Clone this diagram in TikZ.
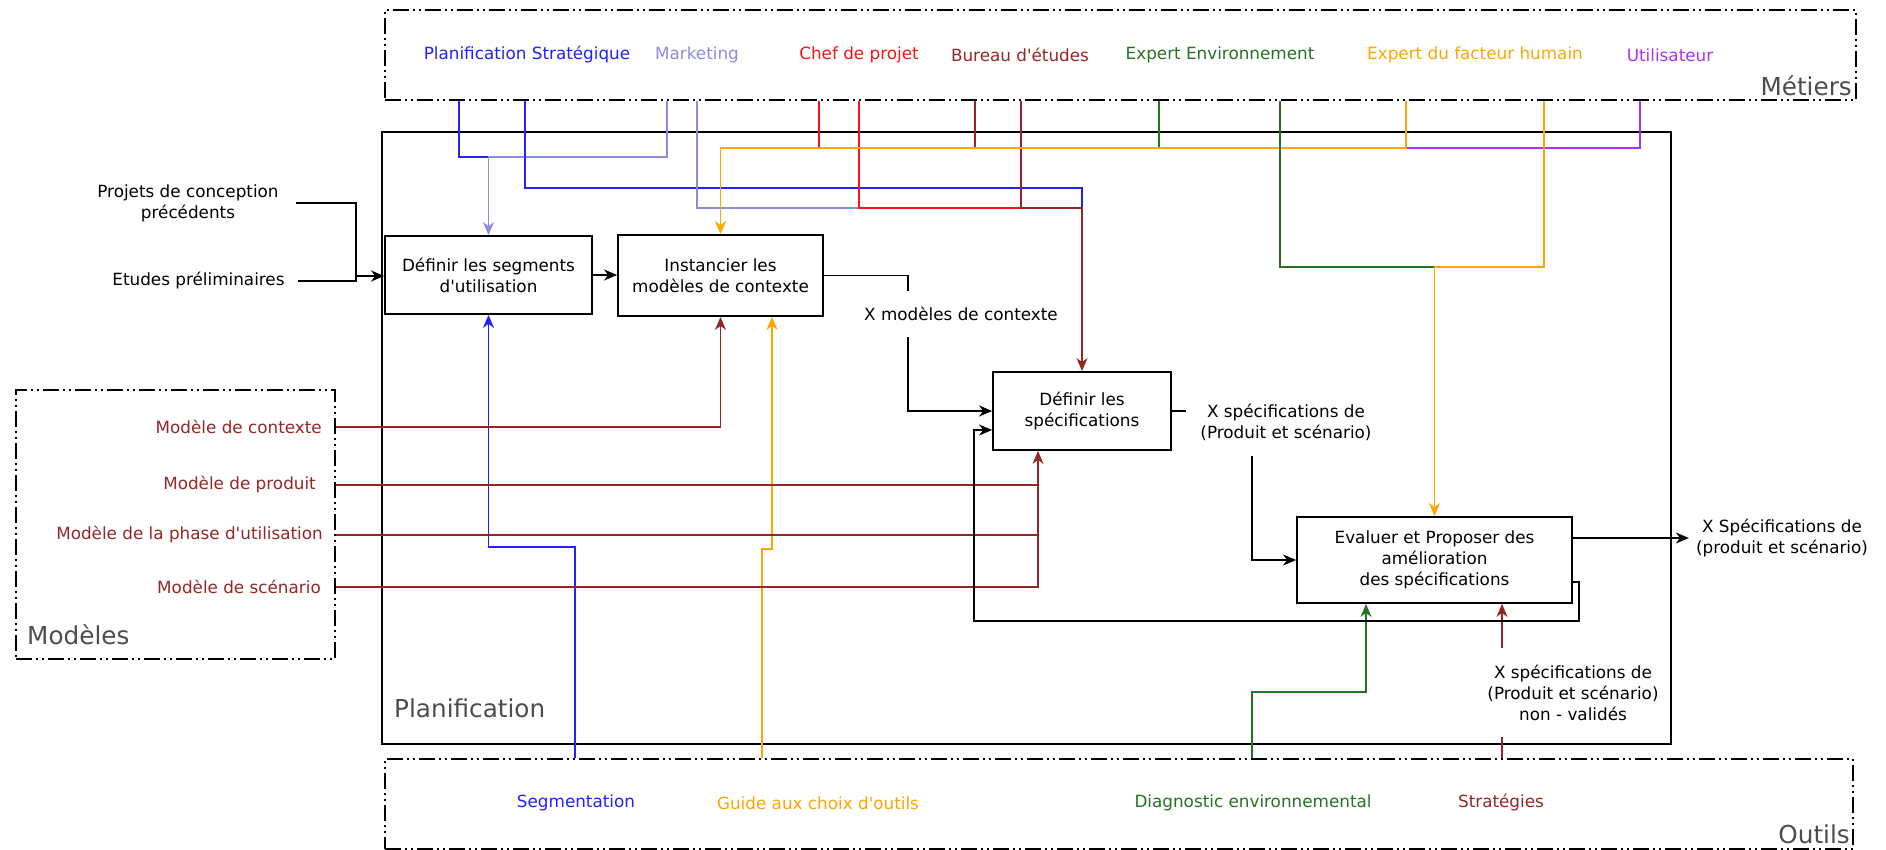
\documentclass[tikz,border=0pt]{standalone}
\usepackage{fontspec}
\setmainfont{DejaVu Sans}[Ligatures=TeXOff]
\usetikzlibrary{arrows.meta}

\definecolor{cPS}{RGB}{34,34,255}
\definecolor{cMkt}{RGB}{140,140,220}
\definecolor{cCdp}{RGB}{250,20,20}
\definecolor{cBE}{RGB}{150,38,38}
\definecolor{cEnv}{RGB}{35,115,35}
\definecolor{cEFH}{RGB}{255,165,0}
\definecolor{cUsr}{RGB}{170,50,240}
\definecolor{cTitle}{RGB}{77,77,77}

\tikzset{
  grp/.style={draw, line width=1.6pt, dash pattern=on 16pt off 4pt on 2pt off 4pt on 2pt off 4pt, inner sep=0pt},
  proc/.style={draw, line width=1.8pt, fill=white, align=center, inner sep=0pt},
  lbl/.style={align=center, inner sep=0pt},
  grptitle/.style={text=cTitle, font=\fontsize{24.7}{30}\selectfont, inner sep=0pt},
  flow/.style={line width=1.6pt},
  lnk/.style={line width=1.4pt},
}

\begin{document}
\begin{tikzpicture}[x=1pt, y=-1pt, font=\fontsize{16.8}{21}\selectfont,
  >={Stealth[length=13pt,width=11pt,inset=4pt]}]
  \useasboundingbox (0,0) rectangle (1886,850);

  % Groups
  \node[grp, minimum width=1471pt, minimum height=90pt] (metiers) at (1120.5,55) {};
  \node[grp, minimum width=1468pt, minimum height=90pt] (outils) at (1119,804) {};
  \node[grp, minimum width=319pt, minimum height=269pt] (modeles) at (175.5,524.5) {};
  \node[draw, line width=1.8pt, minimum width=1289pt, minimum height=612pt, inner sep=0pt] (plan) at (1026.5,438) {};

  % Group titles
  \node[grptitle, anchor=base east] (tmet) at (1852,96) {Métiers};
  \node[grptitle, anchor=base west] (tplan) at (394,717) {Planification};
  \node[grptitle, anchor=base east] (tout) at (1850,843) {Outils};
  \node[grptitle, anchor=base west] (tmod) at (27,644) {Modèles};

  % Métiers
  \node[lbl, text=cPS] (ps) at (527,55) {Planification Stratégique};
  \node[lbl, text=cMkt] (mkt) at (697,55) {Marketing};
  \node[lbl, text=cCdp] (cdp) at (859,55) {Chef de projet};
  \node[lbl, text=cBE] (be) at (1020,55) {Bureau d'études};
  \node[lbl, text=cEnv] (env) at (1220,55) {Expert Environnement};
  \node[lbl, text=cEFH] (efh) at (1475,55) {Expert du facteur humain};
  \node[lbl, text=cUsr] (usr) at (1670,55) {Utilisateur};

  % Outils
  \node[lbl, text=cPS] (tseg) at (576,803) {Segmentation};
  \node[lbl, text=cEFH] (tguide) at (818,803) {Guide aux choix d'outils};
  \node[lbl, text=cEnv] (tdiag) at (1253,803) {Diagnostic environnemental};
  \node[lbl, text=cBE] (tstrat) at (1501,803) {Stratégies};

  % Modèles
  \node[lbl, text=cBE, anchor=east] (mctx) at (322,427) {Modèle de contexte};
  \node[lbl, text=cBE, anchor=east] (mprod) at (316,485) {Modèle de produit};
  \node[lbl, text=cBE, anchor=east] (mphase) at (323,535) {Modèle de la phase d'utilisation};
  \node[lbl, text=cBE, anchor=east] (mscen) at (321,587) {Modèle de scénario};

  % Inputs
  \node[lbl, inner xsep=17pt] (proj) at (188,203) {Projets de conception\\précédents};
  \node[lbl, inner xsep=13pt] (etu) at (198.5,281) {Etudes préliminaires};

  % Activities
  \node[proc, minimum width=207pt, minimum height=78pt] (seg) at (488.5,275) {Définir les segments\\d'utilisation};
  \node[proc, minimum width=205pt, minimum height=81pt] (inst) at (720.5,275.5) {Instancier les\\modèles de contexte};
  \node[proc, minimum width=178pt, minimum height=78pt] (spec) at (1082,411) {Définir les\\spécifications};
  \node[proc, minimum width=275pt, minimum height=86pt] (eval) at (1434.5,560) {Evaluer et Proposer des\\amélioration\\des spécifications};

  % Flow labels
  \node[lbl, minimum height=46pt] (xmod) at (961,314) {X modèles de contexte};
  \node[lbl, minimum height=67pt, inner xsep=14pt] (xspec) at (1286,422.5) {X spécifications de\\(Produit et scénario)};
  \node[lbl, inner xsep=7pt] (xout) at (1782,538) {X Spécifications de\\(produit et scénario)};
  \node[lbl, minimum height=89pt] (xnv) at (1573,692.5) {X spécifications de\\(Produit et scénario)\\non - validés};

  % Inputs -> Définir les segments
  \coordinate (jin) at (356,276);
  \draw[flow] (proj.east) -| (jin);
  \draw[flow] (etu.east) -| (jin);
  \draw[flow, ->] (jin) -- (seg.west |- jin);

  % Métiers -> Définir les segments
  \draw[lnk, cPS] (metiers.south -| 459,0) |- (seg.north |- 0,157);
  \draw[lnk, cMkt, ->] (metiers.south -| 667,0) |- (seg.north |- 0,157) -- (seg.north);

  % Métiers -> Définir les spécifications
  \draw[lnk, cPS] (metiers.south -| 525,0) |- (spec.north |- 0,188) -- (spec.north |- 0,208);
  \draw[lnk, cMkt] (metiers.south -| 697,0) |- (859,208);
  \draw[lnk, cCdp] (metiers.south -| 859,0) |- (spec.north |- 0,208);
  \draw[lnk, cBE, ->] (metiers.south -| 1021,0) |- (spec.north |- 0,208) -- (spec.north);

  % Métiers -> Instancier
  \draw[lnk, cUsr] (metiers.south -| 1640,0) |- (inst.north |- 0,148);
  \draw[lnk, cCdp] (metiers.south -| 819,0) -- (819,148);
  \draw[lnk, cBE] (metiers.south -| 975,0) -- (975,148);
  \draw[lnk, cEnv] (metiers.south -| 1159,0) -- (1159,148);
  \draw[lnk, cEFH, ->] (metiers.south -| 1406,0) |- (inst.north |- 0,148) -- (inst.north);

  % Métiers -> Evaluer
  \draw[lnk, cEnv] (metiers.south -| 1280,0) |- (eval.north |- 0,267);
  \draw[lnk, cEFH, ->] (metiers.south -| 1544,0) |- (eval.north |- 0,267) -- (eval.north);

  % Outils -> activities
  \draw[lnk, cPS, ->] (outils.north -| 575,0) |- (seg.south |- 0,547) -- (seg.south);
  \draw[lnk, cEFH, ->] (outils.north -| 762,0) |- (772,549) -- (inst.south -| 772,0);
  \draw[lnk, cEnv, ->] (outils.north -| 1252,0) |- (1366,692) -- (eval.south -| 1366,0);
  \draw[lnk, cBE] (outils.north -| 1502,0) -- (xnv.south -| 1502,0);
  \draw[lnk, cBE, ->] (xnv.north -| 1502,0) -- (eval.south -| 1502,0);

  % Modèles -> activities
  \draw[lnk, cBE, ->] (modeles.east |- mctx.east) -| (inst.south);
  \draw[lnk, cBE] (modeles.east |- mprod.east) -- (mprod.east -| 1038,0);
  \draw[lnk, cBE] (modeles.east |- mphase.east) -- (mphase.east -| 1038,0);
  \draw[lnk, cBE, ->] (modeles.east |- mscen.east) -| (spec.south -| 1038,0);

  % Main flow
  \draw[flow, ->] (seg.east) -- (inst.west |- seg.east);
  \draw[flow] (inst.east) -| (xmod.north -| 908,0);
  \draw[flow, ->] (xmod.south -| 908,0) |- (spec.west);
  \draw[flow] (spec.east) -- (xspec.west |- spec.east);
  \draw[flow, ->] (xspec.south -| 1252,0) |- (eval.west);
  \draw[flow, ->] (eval.east |- xout.west) -- (xout.west);
  \draw[flow, ->] (eval.east |- 0,582) -| (1579,621) -| (974,430) -- (spec.west |- 0,430); % feedback
\end{tikzpicture}
\end{document}
